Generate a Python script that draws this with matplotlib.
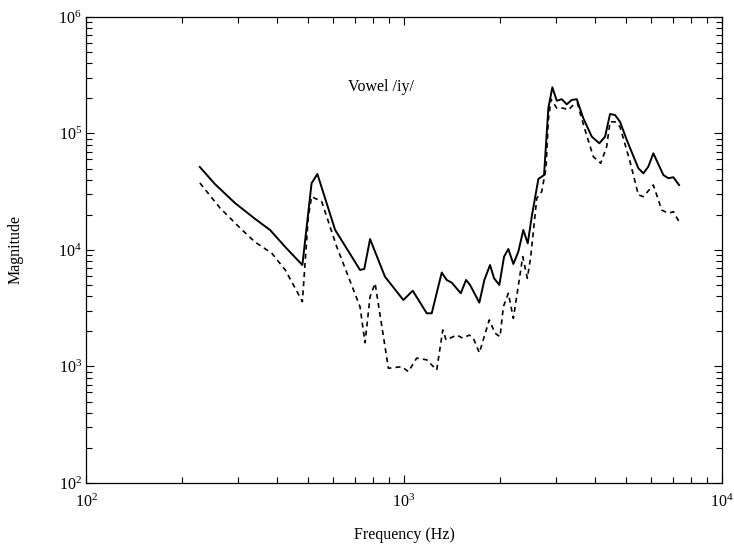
import matplotlib
matplotlib.use("Agg")
import matplotlib.pyplot as plt
from matplotlib.ticker import LogLocator

plt.rcParams['font.family'] = 'Liberation Serif'
plt.rcParams['mathtext.fontset'] = 'custom'
plt.rcParams['mathtext.rm'] = 'Liberation Serif'
plt.rcParams['mathtext.it'] = 'Liberation Serif:italic'

# solid curve (frequency in Hz, magnitude)
freq_solid = [228, 254, 294, 340, 379, 426, 479, 512, 534, 607, 727, 750,
              782, 871, 995, 1065, 1179, 1222, 1314, 1362, 1413, 1508, 1567, 1613,
              1725, 1789, 1864, 1919, 1994, 2063, 2128, 2207, 2288, 2372, 2449, 2521,
              2645, 2756, 2843, 2927, 3022, 3133, 3248, 3369, 3493, 3663, 3894, 4114,
              4287, 4445, 4609, 4778, 5016, 5456, 5656, 5864, 6081, 6538, 6778, 7030,
              7326]
mag_solid = [51600, 36900, 25300, 18500, 14850, 10400, 7430, 37400,
             44900, 14900, 6740, 6870, 12400, 5900, 3720, 4470, 2860, 2860, 6400,
             5530, 5240, 4250, 5530, 5010, 3530, 5530, 7430, 5720, 5010, 8760, 10200,
             7580, 9670, 14850, 11400, 19300, 40700, 44000, 164600, 249000, 191000,
             197000, 178000, 194000, 197000, 135000, 93900, 82400, 93900, 147000,
             144000, 126000, 88000, 50300, 45500, 51900, 67600, 44000, 41300, 42100,
             36100]

# dashed curve
freq_dash = [228, 264, 305, 340, 384, 423, 458, 479, 500, 512, 551, 614, 727,
             754, 782, 811, 893, 984, 1032, 1096, 1179, 1267, 1324, 1356, 1465, 1530,
             1605, 1652, 1725, 1854, 1933, 2004, 2053, 2128, 2207, 2362, 2442, 2503,
             2615, 2710, 2796, 2843, 2900, 3022, 3170, 3286, 3407, 3508, 3709, 3938,
             4154, 4337, 4445, 4609, 4778, 5137, 5456, 5656, 6081, 6463, 6778, 7030,
             7326]
mag_dash = [37600, 22900, 15450, 11700, 9370, 6740, 4540, 3600, 19300, 28700,
            26000, 10700, 3260, 1600, 3970, 5180, 965, 996, 903, 1180, 1140, 933,
            2060, 1690, 1860, 1750, 1860, 1750, 1310, 2510, 1930, 1800, 3260, 4250,
            2590, 8760, 5720, 8760, 27800, 31700, 50300, 131000, 197000, 165000,
            165000, 159000, 176000, 182000, 107000, 63200, 55500, 77000, 126000,
            126000, 114000, 57300, 29700, 28700, 36100, 22000, 20700, 21300, 17500]

fig = plt.figure(figsize=(7.34, 5.57), dpi=100)
ax = fig.add_axes([0.1172, 0.1329, 0.8665, 0.8366])

ax.plot(freq_solid, mag_solid, color='black', lw=1.4)
ax.plot(freq_dash, mag_dash, color='black', lw=1.2, linestyle=(0, (3, 2.5)))

ax.set_xscale('log')
ax.set_yscale('log')
ax.set_xlim(1e2, 1e4)
ax.set_ylim(1e2, 1e6)

ax.xaxis.set_major_locator(LogLocator(base=10, numticks=10))
ax.yaxis.set_major_locator(LogLocator(base=10, numticks=10))
ax.xaxis.set_minor_locator(LogLocator(base=10, subs=range(2, 10), numticks=20))
ax.yaxis.set_minor_locator(LogLocator(base=10, subs=range(2, 10), numticks=20))

ax.tick_params(which='both', direction='in', top=True, right=True,
               labelsize=11.5, width=0.8)
ax.tick_params(which='major', length=6, pad=3)
ax.tick_params(axis='x', which='major', pad=8)
ax.tick_params(which='minor', length=4.5)
for s in ax.spines.values():
    s.set_linewidth(0.9)

ax.text(0.412, 0.85, 'Vowel /iy/', transform=ax.transAxes, ha='left', va='center',
        fontsize=11.5)

ax.set_xlabel('Frequency (Hz)', fontsize=11.5)
ax.set_ylabel('Magnitude', fontsize=11.5)
ax.xaxis.set_label_coords(0.5, -0.095)
ax.yaxis.set_label_coords(-0.098, 0.5)

fig.savefig('out.png', dpi=100)
